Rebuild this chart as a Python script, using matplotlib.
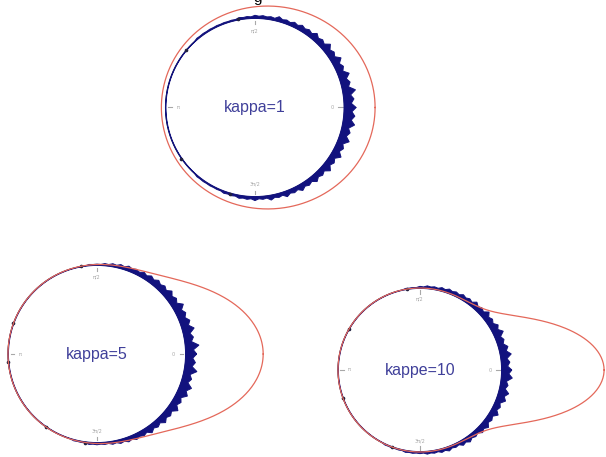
import numpy as np
import matplotlib
matplotlib.use("Agg")
import matplotlib.pyplot as plt

# concentration of each panel and its label (the last one keeps the typo)
kappas = [1, 5, 10]
labels = ["kappa=1", "kappa=5", "kappe=10"]

# stacked points: height of the stack (hundredths of the radius) in 5 degree bins, from 0 deg anticlockwise
stack1 = [13, 11, 14, 10, 12, 9, 11, 8, 10, 7, 8, 6, 6, 5, 4, 5, 3, 3,
          3, 2, 2, 1, 1, 1, 1, 1, 1, 0, 0, 0, 0, 0, 0, 0, 0, 0,
          0, 0, 0, 0, 0, 0, 0, 0, 0, 0, 1, 1, 1, 1, 2, 2, 3, 3,
          4, 3, 5, 4, 6, 5, 7, 6, 8, 7, 10, 8, 11, 9, 12, 10, 13, 12]
stack2 = [12, 15, 10, 13, 11, 10, 12, 9, 10, 8, 8, 7, 6, 5, 5, 4, 3, 2,
          1, 1, 0, 0, 0, 0, 0, 0, 0, 0, 0, 0, 0, 0, 0, 0, 0, 0,
          0, 0, 0, 0, 0, 0, 0, 0, 0, 0, 0, 0, 0, 0, 0, 1, 1, 2,
          2, 2, 3, 4, 5, 6, 6, 8, 7, 9, 8, 11, 9, 12, 13, 10, 14, 11]
stack3 = [12, 10, 13, 11, 9, 12, 10, 8, 10, 7, 8, 6, 6, 5, 5, 4, 3, 3,
          2, 1, 1, 0, 0, 0, 0, 0, 0, 0, 0, 0, 0, 0, 0, 0, 0, 0,
          0, 0, 0, 0, 0, 0, 0, 0, 0, 0, 0, 0, 0, 1, 1, 1, 2, 2,
          2, 3, 3, 4, 5, 4, 6, 7, 6, 8, 9, 7, 10, 8, 11, 12, 9, 13]
stacks = [stack1, stack2, stack3]

# lone points on the far side of the circle (degrees)
lone1 = [101, 140, 215, 254]
lone2 = [100, 160, 185, 235, 262]
lone3 = [99, 150, 200, 250]
lones = [lone1, lone2, lone3]

# panel centre and radius in pixels (layout only)
centres = [(255, 107.5, 89.5), (97, 354, 89), (420, 370, 82)]

W, H = 606, 457
fig = plt.figure(figsize=(W / 100, H / 100), dpi=100)

navy = "#12127e"
red = "#e4685a"
txtcol = "#40409a"
grey = "#a8a8a8"

def von_mises(th, k):
    return np.exp(k * np.cos(th)) / (2 * np.pi * np.i0(k))

for k, lab, st, lone, (cx, cy, R) in zip(kappas, labels, stacks, lones, centres):
    half = 210
    ax = fig.add_axes([(cx - half) / W, 1 - (cy + half) / H, 2 * half / W, 2 * half / H])
    L = half / R
    ax.set_xlim(-L, L)
    ax.set_ylim(-L, L)
    ax.axis("off")

    t = np.linspace(0, 2 * np.pi, 721)
    # unit circle
    ax.plot(np.cos(t), np.sin(t), color="#404040", lw=0.8, clip_on=False, zorder=2)

    # stacked points as a jagged band: spike at each bin centre, shallow notch between bins
    h = np.array(st) / 100.0
    n = len(h)
    centre_ang = np.deg2rad(np.arange(n) * 5.0)
    edge_ang = centre_ang + np.deg2rad(2.5)
    edge_h = 0.7 * np.minimum(h, np.roll(h, -1))
    ang = np.empty(2 * n)
    rad = np.empty(2 * n)
    ang[0::2] = centre_ang
    ang[1::2] = edge_ang
    rad[0::2] = 1 + h
    rad[1::2] = 1 + edge_h
    ang = np.append(ang, 2 * np.pi)
    rad = np.append(rad, rad[0])
    xo = rad * np.cos(ang)
    yo = rad * np.sin(ang)
    xi = np.cos(ang[::-1]) * 0.995
    yi = np.sin(ang[::-1]) * 0.995
    ax.fill(np.concatenate([xo, xi]), np.concatenate([yo, yi]),
            color=navy, lw=0.7, ec=navy, clip_on=False, zorder=3)

    la = np.deg2rad(lone)
    ax.plot(1.005 * np.cos(la), 1.005 * np.sin(la), "o", ms=1.6, color="#202040",
            clip_on=False, zorder=4)

    # density curve
    r = 1 + von_mises(t, k)
    ax.plot(r * np.cos(t), r * np.sin(t), color=red, lw=0.9, clip_on=False, zorder=5)

    # small axis marks inside the circle
    for a, s in zip([0, 90, 180, 270], ["0", "π/2", "π", "3π/2"]):
        ar = np.deg2rad(a)
        ax.plot([0.93 * np.cos(ar), 0.97 * np.cos(ar)], [0.93 * np.sin(ar), 0.97 * np.sin(ar)],
                color=grey, lw=0.8, zorder=1)
        ax.text(0.86 * np.cos(ar), 0.86 * np.sin(ar), s, fontsize=3.5, color=grey,
                ha="center", va="center", zorder=1)

    ax.text(0, 0, lab, fontsize=11.5, color=txtcol, ha="center", va="center",
            family=["Liberation Sans", "DejaVu Sans"])

# title cut off at the top edge, as in the source picture
fig.text(258 / W, 1 - 2 / H, "g", fontsize=11, color="black", ha="center", va="baseline",
         family=["Liberation Sans", "DejaVu Sans"])

fig.savefig("out.png", dpi=100)
